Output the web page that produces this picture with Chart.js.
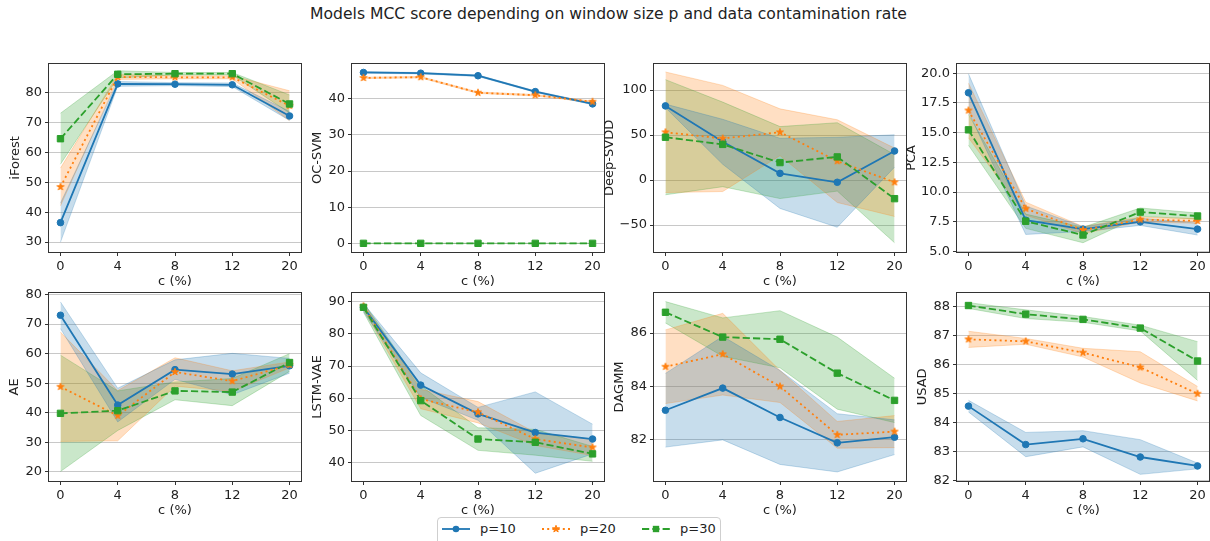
<!DOCTYPE html>
<html>
<head>
<meta charset="utf-8">
<title>Models MCC score</title>
<script src="https://cdn.jsdelivr.net/npm/chart.js@4.4.1/dist/chart.umd.min.js"></script>
<style>
  html, body { margin: 0; padding: 0; background: #fff; }
  body { width: 1210px; height: 541px; position: relative; overflow: hidden;
         font-family: 'DejaVu Sans', sans-serif; color: #222; }
  #title { position: absolute; left: 0; top: 5px; width: 1217px; text-align: center;
           font-size: 15.6px; line-height: 18px; }
  .panel { position: absolute; }
  #legend { position: absolute; left: 437px; top: 517px; width: 284px; height: 30px;
            box-sizing: border-box; border: 1px solid #cfcfcf; border-radius: 4px; background: #fff; }
  #legend canvas, #legend span { position: absolute; top: 3px; }
  #legend span { font-size: 13px; line-height: 16px; }
</style>
</head>
<body>
<div id="title">Models MCC score depending on window size p and data contamination rate</div>
<div id="legend"></div>
<script>
// contamination rates on the x axis and the three window sizes
const cLabels = ['0', '4', '8', '12', '20'];
const seriesNames = ['p=10', 'p=20', 'p=30'];

// MCC means and standard deviations, one row per window size (p=10, p=20, p=30)
const iforestMean = [[36.5, 82.8, 82.7, 82.5, 72.1], [48.4, 85.1, 85.0, 85.0, 75.5], [64.5, 86.0, 86.2, 86.2, 76.1]];
const iforestStd  = [[6.5, 0.8, 0.5, 0.6, 1.5], [6.3, 0.8, 0.5, 0.5, 5.0], [8.5, 1.2, 0.4, 0.4, 3.0]];

const ocsvmMean = [[47.3, 47.1, 46.4, 42.0, 38.6], [45.8, 46.0, 41.7, 41.0, 39.2], [0, 0, 0, 0, 0]];
const ocsvmStd  = [[0.2, 0.2, 0.2, 0.2, 0.2], [0.2, 0.2, 0.2, 0.2, 0.2], [0, 0, 0, 0, 0]];

const deepsvddMean = [[82.4, 42.5, 7.4, -2.5, 32.3], [53.1, 46.2, 53.1, 21.0, -2.5], [47.6, 39.6, 19.4, 25.7, -20.7]];
const deepsvddStd  = [[2, 25, 39, 50, 18], [67, 59, 26, 46, 38], [64, 47, 40, 38, 49]];

const pcaMean = [[18.36, 7.63, 6.88, 7.49, 6.88], [16.87, 8.6, 6.8, 7.68, 7.57], [15.24, 7.54, 6.38, 8.31, 7.98]];
const pcaStd  = [[1.6, 1.2, 0.2, 0.3, 0.5], [2.3, 0.55, 0.3, 0.2, 0.2], [1.3, 0.6, 0.65, 0.35, 0.25]];

const aeMean = [[73.0, 42.6, 54.6, 53.1, 55.9], [48.8, 39.0, 53.8, 50.7, 56.2], [39.8, 40.7, 47.4, 47.0, 57.0]];
const aeStd  = [[4.5, 5.7, 3.3, 7.0, 2.5], [18.5, 8.5, 4.8, 3.5, 1.0], [19.7, 6.7, 3.0, 4.6, 3.0]];

const lstmvaeMean = [[88.2, 64.1, 55.2, 49.4, 47.4], [88.5, 59.8, 55.7, 47.4, 44.8], [88.2, 59.3, 47.4, 46.4, 42.8]];
const lstmvaeStd  = [[1.2, 3.8, 2.0, 12.6, 4.6], [1.0, 3.0, 3.3, 2.0, 2.5], [1.5, 4.6, 3.5, 4.0, 2.3]];

const dagmmMean = [[83.11, 83.94, 82.84, 81.89, 82.10], [84.74, 85.21, 84.00, 82.19, 82.31], [86.78, 85.85, 85.77, 84.50, 83.48]];
const dagmmStd  = [[1.38, 1.94, 1.76, 1.09, 0.65], [1.38, 1.53, 0.6, 0.5, 0.6], [0.4, 0.72, 1.07, 1.35, 0.83]];

const usadMean = [[84.57, 83.24, 83.44, 82.81, 82.50], [86.88, 86.81, 86.42, 85.91, 85.00], [88.05, 87.75, 87.57, 87.27, 86.13]];
const usadStd  = [[0.2, 0.42, 0.28, 0.6, 0.1], [0.28, 0.1, 0.15, 0.54, 0.25], [0.1, 0.15, 0.1, 0.1, 0.67]];

const panels = [
    { name: 'iForest',   mean: iforestMean,  std: iforestStd,  min: 26.7,  max: 89.5,  step: 10,  digits: 0 },
    { name: 'OC-SVM',    mean: ocsvmMean,    std: ocsvmStd,    min: -2.4,  max: 49.7,  step: 10,  digits: 0 },
    { name: 'Deep-SVDD', mean: deepsvddMean, std: deepsvddStd, min: -80,   max: 129.2, step: 50,  digits: 0 },
    { name: 'PCA',       mean: pcaMean,      std: pcaStd,      min: 4.95,  max: 20.8,  step: 2.5, digits: 1 },
    { name: 'AE',        mean: aeMean,       std: aeStd,       min: 16.9,  max: 80.6,  step: 10,  digits: 0 },
    { name: 'LSTM-VAE',  mean: lstmvaeMean,  std: lstmvaeStd,  min: 34.4,  max: 92.7,  step: 10,  digits: 0 },
    { name: 'DAGMM',     mean: dagmmMean,    std: dagmmStd,    min: 80.46, max: 87.51, step: 2,   digits: 0 },
    { name: 'USAD',      mean: usadMean,     std: usadStd,     min: 81.98, max: 88.49, step: 1,   digits: 0 }
];

const colors = ['#1f77b4', '#ff7f0e', '#2ca02c'];
const bandColors = ['rgba(31,119,180,0.25)', 'rgba(255,127,14,0.25)', 'rgba(44,160,44,0.25)'];
const dashes = [[], [2, 3.2], [7.2, 3.1]];

// grid geometry
const colLeft = [49, 352, 654, 957];
const rowTop = [61, 290];
const canvasLeft = [8, 310, 602, 904, 7, 310, 612, 915];
const plotW = 252, plotH = 191, padTop = 8, padRight = 6, xAxisH = 37;

Chart.defaults.font.family = "'DejaVu Sans', sans-serif";
Chart.defaults.font.size = 13;
Chart.defaults.color = '#222';

function starPath(ctx, cx, cy, r) {
    const inner = r * 0.382;
    ctx.beginPath();
    for (let k = 0; k < 10; k++) {
        const a = -Math.PI / 2 + k * Math.PI / 5;
        const rr = k % 2 ? inner : r;
        ctx.lineTo(cx + rr * Math.cos(a), cy + rr * Math.sin(a));
    }
    ctx.closePath();
}

const starR = 3.7;

function starImage(color, r) {
    const c = document.createElement('canvas');
    const size = Math.ceil(r * 2 + 2);
    c.width = c.height = size;
    const ctx = c.getContext('2d');
    ctx.fillStyle = color;
    ctx.strokeStyle = color;
    starPath(ctx, size / 2, size / 2, r);
    ctx.fill();
    ctx.stroke();
    return c;
}

const markers = ['circle', starImage(colors[1], starR), 'rect'];
const radii = [3.3, 4, 4.5];

function fmtTick(v, digits) {
    const s = Math.abs(v).toFixed(digits);
    return v < 0 ? '\u2212' + s : s;
}

function buildDatasets(mean, std) {
    const bands = [];
    const lines = [];
    mean.forEach((vals, s) => {
        const shifted = sign => vals.map((v, k) => ({ x: k, y: v + sign * std[s][k] }));
        bands.push({ data: shifted(1), borderColor: bandColors[s], backgroundColor: bandColors[s],
                     borderWidth: 1, fill: '+1', pointRadius: 0, order: 5 });
        bands.push({ data: shifted(-1), borderColor: bandColors[s], borderWidth: 1,
                     fill: false, pointRadius: 0, order: 5 });
        lines.push({
            label: seriesNames[s],
            data: vals.map((v, k) => ({ x: k, y: v })),
            borderColor: colors[s],
            backgroundColor: colors[s],
            borderWidth: 1.8,
            borderDash: dashes[s],
            pointStyle: markers[s],
            pointRadius: radii[s],
            pointBorderWidth: 1,
            pointBackgroundColor: colors[s],
            pointBorderColor: colors[s],
            fill: false,
            order: 2 - s
        });
    });
    return bands.concat(lines);
}

// box around each plot area, like the four spines
const frame = {
    id: 'frame',
    afterDraw(chart) {
        const { ctx, chartArea: a } = chart;
        ctx.save();
        ctx.strokeStyle = '#333';
        ctx.lineWidth = 1;
        ctx.strokeRect(Math.round(a.left) - 0.5, Math.round(a.top) - 0.5,
                       Math.round(a.right - a.left) + 1, Math.round(a.bottom - a.top) + 1);
        ctx.restore();
    }
};

panels.forEach((p, i) => {
    const col = i % 4;
    const row = Math.floor(i / 4);
    const axisW = colLeft[col] - canvasLeft[i];

    const canvas = document.createElement('canvas');
    canvas.className = 'panel';
    canvas.width = axisW + plotW + padRight;
    canvas.height = padTop + plotH + xAxisH;
    canvas.style.left = canvasLeft[i] + 'px';
    canvas.style.top = (rowTop[row] - padTop) + 'px';
    document.body.appendChild(canvas);

    new Chart(canvas.getContext('2d'), {
        type: 'line',
        data: { datasets: buildDatasets(p.mean, p.std) },
        options: {
            responsive: false,
            animation: false,
            layout: { padding: { left: 0, right: padRight, top: padTop, bottom: 0 } },
            elements: { line: { tension: 0 } },
            scales: {
                x: {
                    type: 'linear',
                    min: -0.2,
                    max: 4.2,
                    afterFit: s => { s.height = xAxisH; },
                    grid: { drawOnChartArea: false, tickLength: 4, tickColor: '#333' },
                    border: { display: false },
                    ticks: { stepSize: 1, padding: 3, includeBounds: false, autoSkip: false, maxRotation: 0,
                             callback: v => cLabels[v] ?? '' },
                    title: { display: true, text: 'c (%)', padding: 0 }
                },
                y: {
                    min: p.min,
                    max: p.max,
                    afterFit: s => { s.width = axisW; },
                    grid: { color: '#c8c8c8', tickLength: 4, tickColor: '#333' },
                    border: { display: false },
                    ticks: { stepSize: p.step, padding: 3, includeBounds: false,
                             callback: v => fmtTick(v, p.digits) },
                    title: { display: true, text: p.name, padding: 0 }
                }
            },
            plugins: {
                legend: { display: false },
                tooltip: { enabled: false },
                filler: { drawTime: 'beforeDatasetsDraw' }
            }
        },
        plugins: [frame]
    });
});

// shared legend under the grid
const legend = document.getElementById('legend');
const legendX = [4, 104, 204];
seriesNames.forEach((name, s) => {
    const c = document.createElement('canvas');
    c.width = 28;
    c.height = 16;
    c.style.left = legendX[s] + 'px';
    const ctx = c.getContext('2d');
    ctx.strokeStyle = colors[s];
    ctx.fillStyle = colors[s];
    ctx.lineWidth = 1.8;
    ctx.setLineDash(dashes[s]);
    ctx.beginPath();
    ctx.moveTo(0, 8);
    ctx.lineTo(28, 8);
    ctx.stroke();
    ctx.setLineDash([]);
    ctx.lineWidth = 1;
    if (s === 0) {
        ctx.beginPath();
        ctx.arc(14, 8, radii[0], 0, Math.PI * 2);
        ctx.fill();
    } else if (s === 1) {
        starPath(ctx, 14, 8, starR);
        ctx.fill();
        ctx.stroke();
    } else {
        const h = radii[2] * Math.SQRT1_2;
        ctx.fillRect(14 - h, 8 - h, 2 * h, 2 * h);
    }
    legend.appendChild(c);

    const label = document.createElement('span');
    label.textContent = name;
    label.style.left = (legendX[s] + 38) + 'px';
    legend.appendChild(label);
});
</script>
</body>
</html>
